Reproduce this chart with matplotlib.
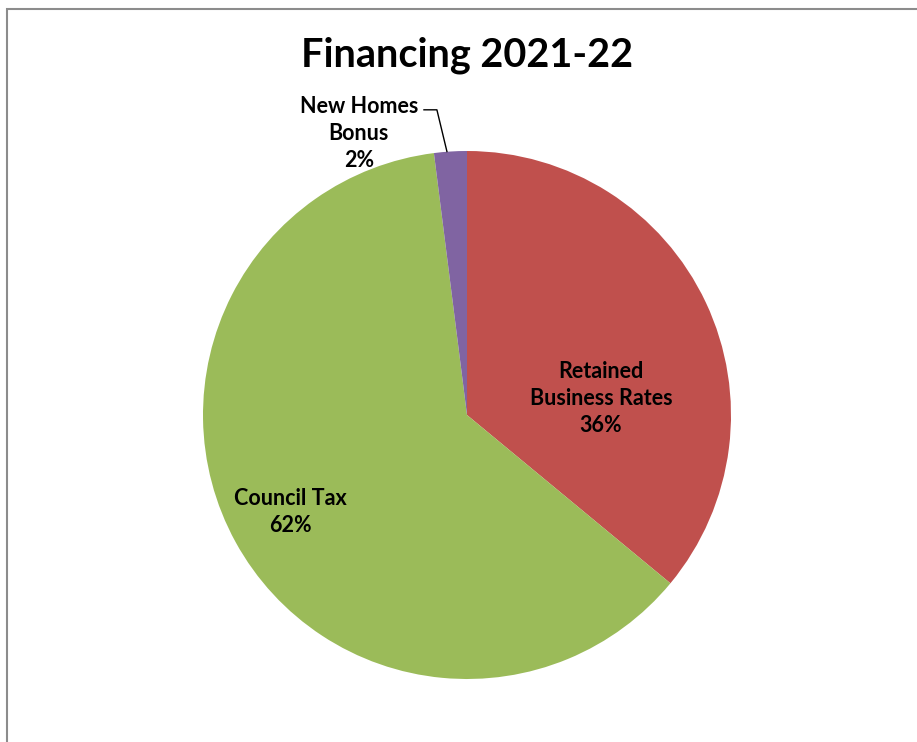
import matplotlib
matplotlib.use("Agg")
import matplotlib.pyplot as plt
from matplotlib.patches import Rectangle

plt.rcParams['font.family'] = ['Lato', 'DejaVu Sans']

# data
categories = ["Retained\nBusiness Rates", "Council Tax", "New Homes\nBonus"]
shares = [36, 62, 2]
colours = ["#C0504D", "#9BBB59", "#8064A2"]

W, H = 917, 742
fig = plt.figure(figsize=(W / 100, H / 100), dpi=100)

# outer chart frame (only left and top visible in the reference)
fig.patches.append(Rectangle((6.5 / W, -0.1), 1.2, (H - 8.5) / H + 0.1,
                             transform=fig.transFigure, fill=False,
                             edgecolor="#8c8c8c", linewidth=1.5))

cx, cy, r = 467, 415, 264
ax = fig.add_axes([(cx - r) / W, (H - cy - r) / H, 2 * r / W, 2 * r / H])
wedges, _ = ax.pie(shares, colors=colours, startangle=90, counterclock=False,
                   radius=1.0, wedgeprops=dict(linewidth=0))
ax.set_xlim(-1, 1)
ax.set_ylim(-1, 1)
ax.axis("off")

labels = [f"{c}\n{s}%" for c, s in zip(categories, shares)]
lab_kw = dict(ha="center", va="center", fontsize=15.5, fontweight="bold",
              linespacing=1.35)
ax.text(0.508, 0.064, labels[0], **lab_kw)
ax.text(-0.67, -0.367, labels[1], **lab_kw)
ax.text(-0.41, 1.065, labels[2], clip_on=False, **lab_kw)

# leader line for the small slice
ax.plot([-0.163, -0.114, -0.076], [1.156, 1.156, 0.998], color="black",
        linewidth=1, clip_on=False)

fig.text(cx / W, 1 - 55 / H, "Financing 2021-22", ha="center", va="center",
         fontsize=28.5, fontweight="bold")

fig.savefig("out.png", dpi=100)
